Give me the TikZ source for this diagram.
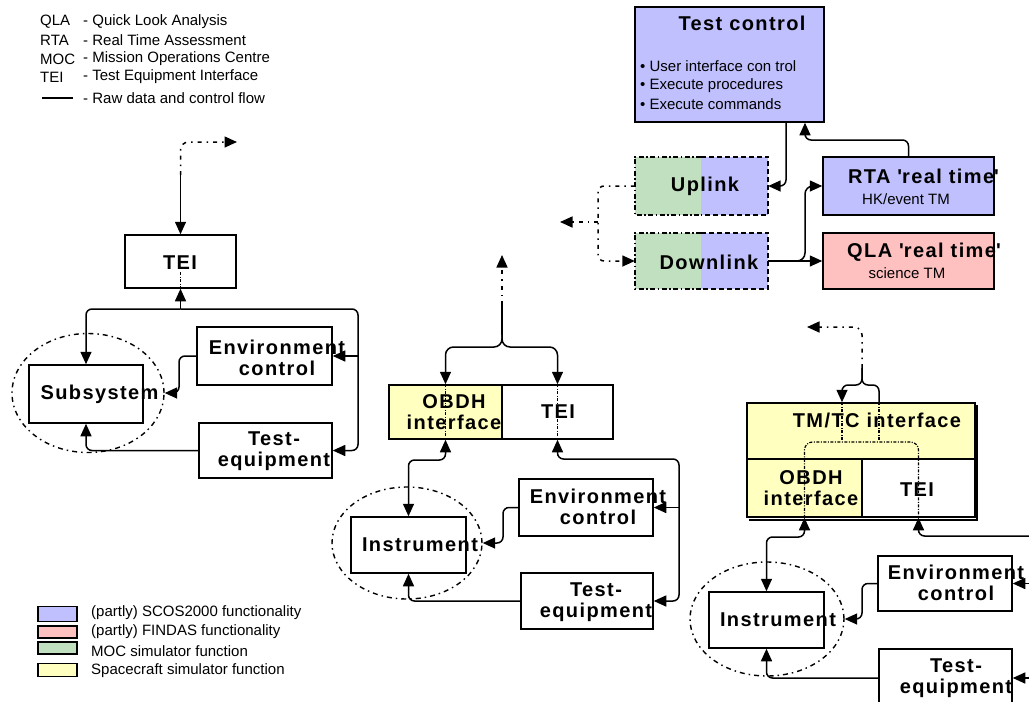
\documentclass[tikz,border=0pt]{standalone}
\usepackage{fontspec}
\setmainfont{Liberation Sans}
\newfontfamily\bfx[LetterSpace=7]{Liberation Sans}
\usetikzlibrary{arrows.meta,shapes.geometric}
\definecolor{lav}{RGB}{192,192,255}
\definecolor{pinkc}{RGB}{255,192,192}
\definecolor{greenc}{RGB}{192,224,192}
\definecolor{yel}{RGB}{255,255,192}
\begin{document}
\begin{tikzpicture}[x=1pt,y=-1pt,
  box/.style={draw,line width=1.5pt,inner sep=0pt,rectangle,fill=white},
  plain/.style={inner sep=0pt,rectangle},
  conn/.style={line width=1.5pt,rounded corners=6pt},
  arr/.style={-{Triangle[length=12.5pt,width=11pt]}},
  bi/.style={{Triangle[length=12.5pt,width=11pt]}-{Triangle[length=12.5pt,width=11pt]}},
  flowd/.style={line width=1.5pt,dash pattern=on 4pt off 5pt on 1.5pt off 5pt},
  innerd/.style={line width=1.2pt,dash pattern=on 3pt off 1.5pt on 1pt off 1.5pt},
  boxd/.style={line width=1.6pt,dash pattern=on 5pt off 3pt},
  boxdd/.style={line width=1.6pt,dash pattern=on 5pt off 2.5pt on 1.5pt off 2.5pt},
  ell/.style={ellipse,draw,inner sep=0pt,line width=1.4pt,dash pattern=on 5pt off 4pt on 1.5pt off 4pt},
  lbl/.style={font={\fontsize{20}{21.5}\bfx\bfseries},align=center,inner sep=0pt},
  txt/.style={font={\fontsize{15}{18}\selectfont},inner sep=0pt,anchor=west}
]
\fill[white] (0,0) rectangle (1029,702);
\useasboundingbox (0,0) rectangle (1029,702);
\clip (0,0) rectangle (1029,702);

% ---------- top legend ----------
\node[txt] (la1) at (40,22) {QLA};
\node[txt] (lb1) at (83,22) {- Quick Look Analysis};
\node[txt] (la2) at (40,40) {RTA};
\node[txt] (lb2) at (83,40) {- Real Time Assessment};
\node[txt] (la3) at (40,59) {MOC};
\node[txt] (lb3) at (83,59) {- Mission Operations Centre};
\node[txt] (la4) at (40,77) {TEI};
\node[txt] (lb4) at (83,77) {- Test Equipment Interface};
\draw[line width=1.5pt] (42,98) -- (73,98);
\node[txt] (lb5) at (83,98) {- Raw data and control flow};

% ---------- bottom legend ----------
\node[box,line width=1.8pt,fill=lav,minimum width=39pt,minimum height=15pt] (lg1) at (57.5,614) {};
\node[box,line width=1.8pt,fill=pinkc,minimum width=39pt,minimum height=12pt] (lg2) at (57.5,632) {};
\node[box,line width=1.8pt,fill=greenc,minimum width=39pt,minimum height=12pt] (lg3) at (57.5,648) {};
\node[box,line width=1.8pt,fill=yel,minimum width=39pt,minimum height=13pt] (lg4) at (57.5,670) {};
\node[txt] (lt1) at (91,613) {(partly) SCOS2000 functionality};
\node[txt] (lt2) at (91,632) {(partly) FINDAS functionality};
\node[txt] (lt3) at (91,651) {MOC simulator function};
\node[txt] (lt4) at (91,671) {Spacecraft simulator function};

% ---------- test control area ----------
\node[box,fill=lav,minimum width=189pt,minimum height=115pt] (tc) at (729.5,64.5) {};
\node[lbl] (tct) at (742,23) {Test control};
\node[txt] (tb1) at (640,66) {• User interface con trol};
\node[txt] (tb2) at (640,86) {• Execute procedures};
\node[txt] (tb3) at (640,104) {• Execute commands};

\node[plain,fill=greenc,minimum width=66pt,minimum height=58pt] (ulg) at (668,186) {};
\node[plain,fill=lav,minimum width=67pt,minimum height=58pt] (ulb) at (734.5,186) {};
\draw[boxdd] (ulg.north east) -- (ulg.north west) -- (ulg.south west) -- (ulg.south east);
\draw[boxd] (ulb.north west) -- (ulb.north east) -- (ulb.south east) -- (ulb.south west);
\node[lbl] (ult) at (705,186) {Uplink};

\node[plain,fill=greenc,minimum width=66pt,minimum height=56pt] (dlg) at (668,261) {};
\node[plain,fill=lav,minimum width=67pt,minimum height=56pt] (dlb) at (734.5,261) {};
\draw[boxdd] (dlg.north east) -- (dlg.north west) -- (dlg.south west) -- (dlg.south east);
\draw[boxd] (dlb.north west) -- (dlb.north east) -- (dlb.south east) -- (dlb.south west);
\node[lbl] (dlt) at (709,262) {Downlink};

\node[box,fill=lav,minimum width=171pt,minimum height=58pt] (rta) at (908.5,186) {};
\node[lbl] (rtat) at (923.5,176) {RTA \textquotesingle real time\textquotesingle};
\node[txt,anchor=center] (rtas) at (906,199) {HK/event TM};
\node[box,fill=pinkc,minimum width=171pt,minimum height=56pt] (qla) at (908.5,261) {};
\node[lbl] (qlat) at (924,252) {QLA \textquotesingle real time\textquotesingle};
\node[txt,anchor=center] (qlas) at (907,273) {science TM};

\draw[conn,arr] ([xshift=56.5pt]tc.south) |- (ulb.east);
\draw[conn,arr] (rta.north) |- (805,140) -- ([xshift=75.5pt]tc.south);
\draw[conn,arr,rounded corners=8pt] (dlb.east) -- (805,261) |- (rta.west);
\draw[conn,arr] (dlb.east) -- (qla.west);
\coordinate (ext1) at (560,222);
\draw[flowd,arr,rounded corners=6pt] (ulg.west) -- (598,186) -- (598,261) -- (dlg.west);
\draw[flowd,arr] (598,222) -- (ext1);

% ---------- left group ----------
\node[ell,minimum width=152pt,minimum height=119pt] (ell1) at (88,393) {};
\node[box,minimum width=111pt,minimum height=53pt] (tei1) at (180.5,261.5) {};
\node[lbl] (tei1t) at (180,263) {TEI};
\node[box,minimum width=114pt,minimum height=58pt] (sub) at (86,394) {};
\node[lbl] (subt) at (99.5,394) {Subsystem};
\node[box,minimum width=135pt,minimum height=58pt] (env1) at (264.5,356) {};
\node[lbl] (env1t) at (277,358) {Environment\\control};
\node[box,minimum width=133pt,minimum height=55pt] (te1) at (265.5,450.5) {};
\node[lbl] (te1t) at (274,451) {Test-\\equipment};

\coordinate (ext2) at (237,142);
\coordinate (j1top) at (180.5,175);
\draw[conn,arr] (j1top) -- (tei1.north);
\draw[flowd,arr,rounded corners=8pt] (j1top) -- (180.5,142) -- (ext2);
\draw[innerd] (180.5,272) -- (tei1.south);
\coordinate (j1) at (180.5,309);
\draw[conn,arr] (j1) -- (tei1.south);
\draw[conn,arr] (j1) -| (sub.north);
\draw[conn,arr] (j1) -- (358,309) |- (te1.east);
\draw[conn,arr] (358,356) -- (env1.east);
\draw[conn,arr] (env1.west) -- (179,356) |- (ell1.east);
\draw[conn,arr] (te1.west) -| (sub.south);

% ---------- middle group ----------
\node[ell,minimum width=150pt,minimum height=112pt] (ell2) at (407,543) {};
\node[box,fill=yel,minimum width=113pt,minimum height=54pt] (obdh2) at (445.5,412) {};
\node[box,minimum width=111pt,minimum height=54pt] (tei2) at (557.5,412) {};
\node[lbl] (obdh2t) at (454,412) {OBDH\\interface};
\node[lbl] (tei2t) at (558,412) {TEI};
\node[box,minimum width=115pt,minimum height=56pt] (ins2) at (408.5,545) {};
\node[lbl] (ins2t) at (420,545) {Instrument};
\node[box,minimum width=134pt,minimum height=57pt] (env2) at (586,507.5) {};
\node[lbl] (env2t) at (598,507) {Environment\\control};
\node[box,minimum width=132pt,minimum height=56pt] (te2) at (587,601) {};
\node[lbl] (te2t) at (596,602) {Test-\\equipment};

\coordinate (ext3) at (502,255);
\coordinate (j2) at (502,335);
\draw[flowd,arr] (502,305) -- (ext3);
\draw[conn] (502,305) -- (j2);
\draw[conn,arr,rounded corners=8pt] (j2) -- (502,347) -| (obdh2.north);
\draw[conn,arr,rounded corners=8pt] (j2) -- (502,347) -| (tei2.north);
\draw[innerd] (obdh2.north) -- (obdh2.south);
\draw[innerd] (tei2.north) -- (tei2.south);
\draw[conn,bi] (obdh2.south) |- (408.5,460) -- (ins2.north);
\draw[conn,bi] (tei2.south) |- (679,459) |- (te2.east);
\draw[conn,arr] (679,507.5) -- (env2.east);
\draw[conn,arr] (env2.west) -- (503,507.5) |- (ell2.east);
\draw[conn,arr] (te2.west) -| (ins2.south);

% ---------- right group ----------
\node[ell,minimum width=154pt,minimum height=114pt] (ell3) at (767,619) {};
\draw[line width=1.5pt] (749,520) -- (977,520) -- (977,405);
\node[box,fill=yel,minimum width=228pt,minimum height=56pt] (tmtc) at (861,431) {};
\node[box,fill=yel,minimum width=115pt,minimum height=58pt] (obdh3) at (804.5,488) {};
\node[box,minimum width=113pt,minimum height=58pt] (tei3) at (918.5,488) {};
\node[lbl] (tmtct) at (877,420) {TM/TC interface};
\node[lbl] (obdh3t) at (811,488) {OBDH\\interface};
\node[lbl] (tei3t) at (917,490) {TEI};
\node[box,minimum width=115pt,minimum height=56pt] (ins3) at (766.5,620) {};
\node[lbl] (ins3t) at (778,620) {Instrument};
\node[box,minimum width=134pt,minimum height=55pt] (env3) at (945,583.5) {};
\node[lbl] (env3t) at (956,583) {Environment\\control};
\node[box,minimum width=133pt,minimum height=58pt] (te3) at (945.5,678) {};
\node[lbl] (te3t) at (956,678) {Test-\\equipment};

\coordinate (ext4) at (807,327);
\coordinate (j3) at (862,368);
\draw[flowd,arr,rounded corners=8pt] (j3) -- (862,327) -- (ext4);
\draw[conn,arr] (j3) -- (862,385) -| ([xshift=-19pt]tmtc.north);
\draw[conn] (j3) -- (862,385) -| ([xshift=18pt]tmtc.north);
\draw[innerd] ([xshift=-19pt]tmtc.north) -- (842,440);
\draw[innerd] ([xshift=18pt]tmtc.north) -- (879,440);
\draw[innerd,rounded corners=8pt] (obdh3.south) -- (804.5,442) -- (918.5,442) -- (tei3.south);
\draw[conn,bi] (obdh3.south) |- (766.5,537) -- (ins3.north);
\coordinate (rb) at (1040,536);
\draw[conn,arr] (rb) -| (tei3.south);
\draw[conn] (rb) -- (1040,678);
\draw[conn,arr] (1040,583.5) -- (env3.east);
\draw[conn,arr] (1040,678) -- (te3.east);
\draw[conn,arr] (env3.west) -- (862,583.5) |- (ell3.east);
\draw[conn,arr] (te3.west) -| (ins3.south);
\end{tikzpicture}
\end{document}
